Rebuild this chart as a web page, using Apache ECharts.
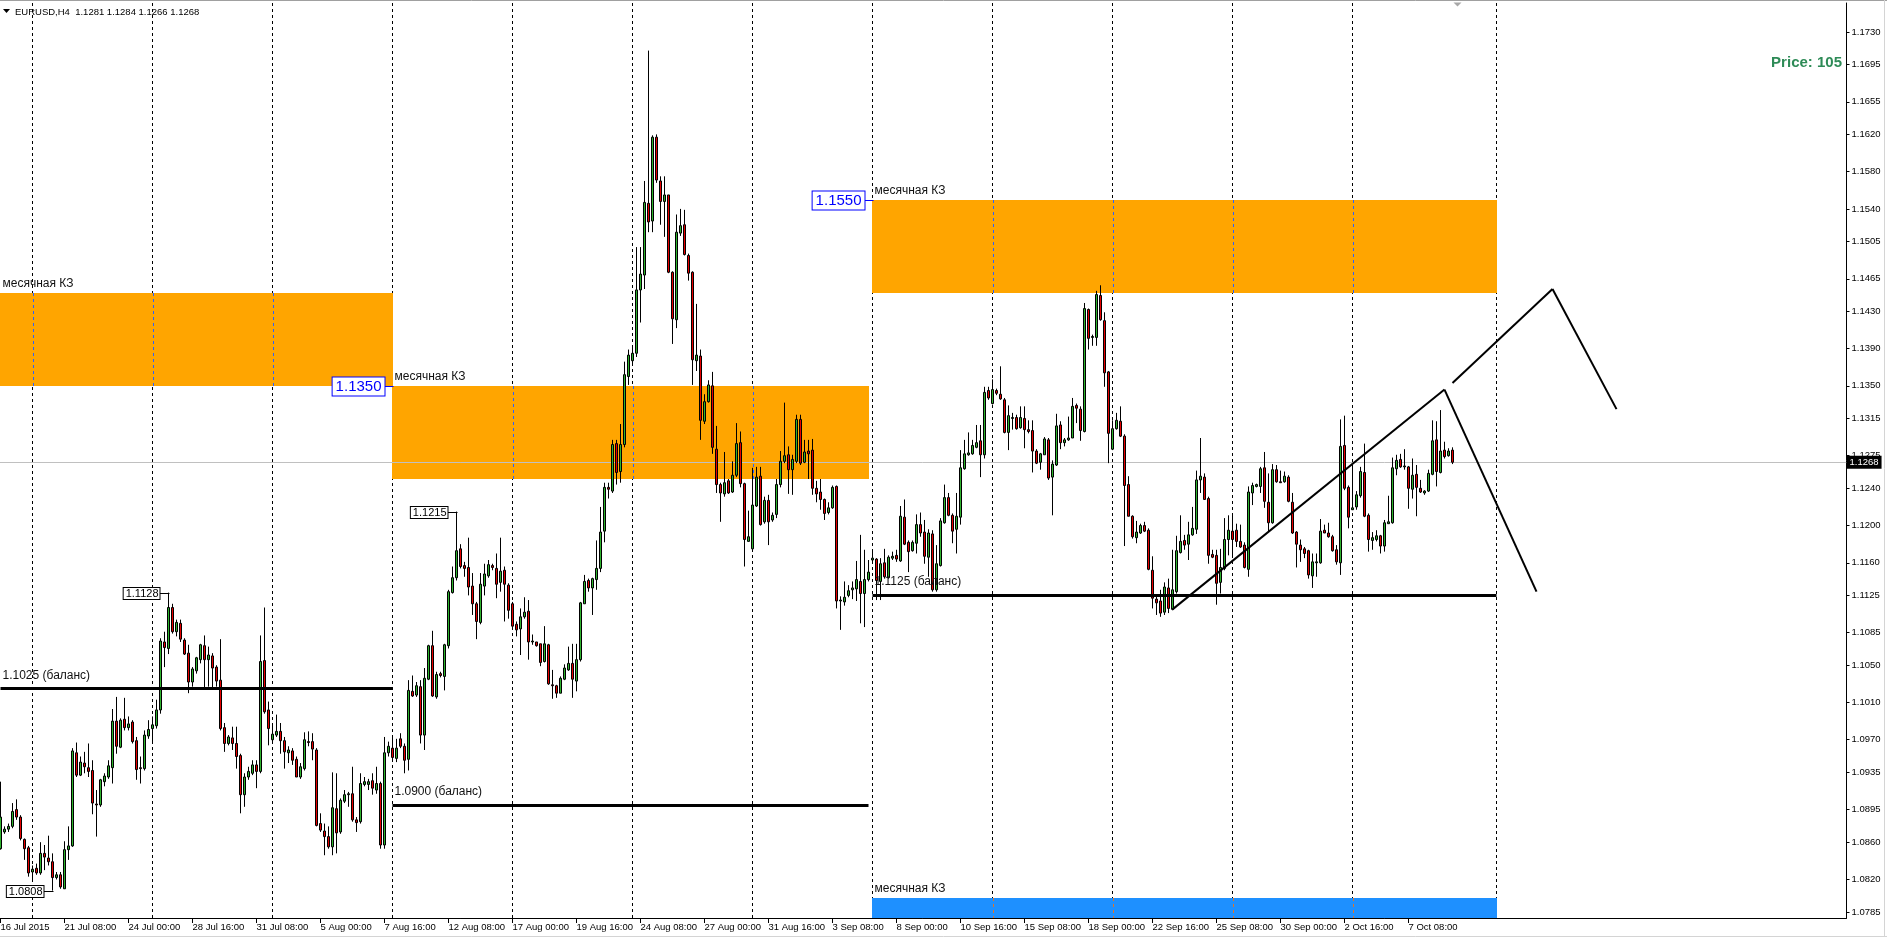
<!DOCTYPE html>
<html><head><meta charset="utf-8">
<script src="https://cdn.jsdelivr.net/npm/echarts@6/dist/echarts.min.js"></script>
<style>html,body{margin:0;padding:0;background:#fff;overflow:hidden}#chart{width:1887px;height:940px}</style>
</head><body><div id="chart"></div>
<script>
// ---------------- DATA ----------------
const symbolName = 'EURUSD,H4';
const indicatorText = 'Price: 105';
const tickLabels = ['16 Jul 2015','21 Jul 08:00','24 Jul 00:00','28 Jul 16:00','31 Jul 08:00','5 Aug 00:00','7 Aug 16:00','12 Aug 08:00','17 Aug 00:00','19 Aug 16:00','24 Aug 08:00','27 Aug 00:00','31 Aug 16:00','3 Sep 08:00','8 Sep 00:00','10 Sep 16:00','15 Sep 08:00','18 Sep 00:00','22 Sep 16:00','25 Sep 08:00','30 Sep 00:00','2 Oct 16:00','7 Oct 08:00'];
const barsPerTickLabel = 16;
const totalSlots = 462;

const opens = [
1.0853,1.0871,1.0874,1.0877,1.0895,1.0887,1.0863,1.0854,1.0828,1.0832,
1.0827,1.0848,1.0843,1.0839,1.0822,1.0825,1.0810,1.0852,1.0856,1.0956,
1.0932,1.0945,1.0940,1.0937,1.0901,1.0900,1.0925,1.0930,1.0940,1.0990,
1.0962,1.0992,1.0983,1.0989,1.0969,1.0940,1.0939,1.0974,1.0982,1.0985,
1.1002,1.1075,1.1068,1.1112,1.1086,1.1095,1.1077,1.1063,1.1032,1.1044,
1.1056,1.1071,1.1056,1.1060,1.1048,1.1034,1.0983,1.0966,1.0972,1.0966,
1.0953,1.0911,1.0930,1.0934,1.0943,1.0936,1.1055,1.1002,1.0970,1.0975,
1.0979,1.0969,1.0956,1.0958,1.0949,1.0930,1.0939,1.0968,1.0968,1.0959,
1.0880,1.0872,1.0866,1.0855,1.0896,1.0871,1.0904,1.0911,1.0912,1.0884,
1.0882,1.0922,1.0922,1.0926,1.0916,1.0923,1.0857,1.0956,1.0961,1.0950,
1.0971,1.0963,1.0949,1.1022,1.1018,1.1027,1.0975,1.1035,1.1071,1.1016,
1.1041,1.1038,1.1071,1.1128,1.1144,1.1175,1.1157,1.1155,1.1135,1.1116,
1.1096,1.1135,1.1146,1.1157,1.1154,1.1139,1.1152,1.1136,1.1116,1.1094,
1.1089,1.1102,1.1108,1.1075,1.1075,1.1073,1.1054,1.1072,1.1029,1.1028,
1.1020,1.1035,1.1045,1.1052,1.1033,1.1056,1.1116,1.1141,1.1133,1.1142,
1.1154,1.1194,1.1241,1.1237,1.1288,1.1258,1.1287,1.1360,1.1377,1.1385,
1.1453,1.1469,1.1546,1.1527,1.1617,1.1570,1.1548,1.1555,1.1472,1.1421,
1.1514,1.1523,1.1490,1.1472,1.1377,1.1382,1.1312,1.1333,1.1350,1.1282,
1.1244,1.1234,1.1248,1.1236,1.1254,1.1289,1.1245,1.1183,1.1175,1.1221,
1.1253,1.1204,1.1227,1.1206,1.1212,1.1244,1.1269,1.1276,1.1260,1.1269,
1.1314,1.1268,1.1280,1.1281,1.1240,1.1236,1.1228,1.1214,1.1219,1.1242,
1.1119,1.1118,1.1125,1.1131,1.1132,1.1140,1.1127,1.1142,1.1163,1.1164,
1.1140,1.1160,1.1144,1.1165,1.1168,1.1162,1.1209,1.1182,1.1173,1.1181,
1.1201,1.1193,1.1166,1.1191,1.1131,1.1157,1.1203,1.1230,1.1211,1.1196,
1.1209,1.1261,1.1276,1.1277,1.1284,1.1291,1.1276,1.1345,1.1331,1.1345,
1.1341,1.1335,1.1300,1.1315,1.1316,1.1305,1.1315,1.1303,1.1302,1.1280,
1.1268,1.1276,1.1292,1.1252,1.1265,1.1308,1.1289,1.1292,1.1294,1.1329,
1.1325,1.1301,1.1432,1.1402,1.1402,1.1447,1.1420,1.1365,1.1282,1.1304,
1.1312,1.1296,1.1244,1.1210,1.1187,1.1192,1.1200,1.1195,1.1152,1.1121,
1.1119,1.1107,1.1133,1.1110,1.1129,1.1171,1.1184,1.1180,1.1190,1.1196,
1.1249,1.1252,1.1229,1.1169,1.1168,1.1139,1.1154,1.1185,1.1194,1.1195,
1.1183,1.1179,1.1153,1.1235,1.1242,1.1242,1.1262,1.1225,1.1203,1.1260,
1.1247,1.1247,1.1252,1.1225,1.1193,1.1179,1.1175,1.1173,1.1146,1.1160,
1.1160,1.1195,1.1192,1.1188,1.1174,1.1160,1.1286,1.1241,1.1217,1.1220,
1.1232,1.1257,1.1211,1.1184,1.1185,1.1189,1.1178,1.1202,1.1203,1.1261,
1.1271,1.1263,1.1263,1.1239,1.1255,1.1240,1.1235,1.1237,1.1255,1.1292,
1.1257,1.1281,1.1275,1.1281];

const highs = [
1.0925,1.0877,1.0880,1.0902,1.0906,1.0889,1.0864,1.0856,1.0835,1.0837,
1.0860,1.0857,1.0867,1.0848,1.0828,1.0828,1.0861,1.0877,1.0961,1.0967,
1.0952,1.0957,1.0966,1.0948,1.0916,1.0928,1.0934,1.0948,1.1003,1.1016,
1.0993,1.1015,1.0995,1.0991,1.0973,1.0952,1.0980,1.0991,1.0995,1.1013,
1.1079,1.1086,1.1128,1.1116,1.1099,1.1099,1.1079,1.1072,1.1048,1.1059,
1.1073,1.1082,1.1070,1.1063,1.1050,1.1078,1.0988,1.0975,1.0984,1.0984,
1.0955,1.0934,1.0941,1.0948,1.0948,1.1082,1.1112,1.1011,1.0986,1.0997,
1.0988,1.0973,1.0963,1.0961,1.0952,1.0945,1.0978,1.0979,1.0977,1.0961,
1.0891,1.0880,1.0877,1.0935,1.0934,1.0907,1.0916,1.0914,1.0941,1.0887,
1.0934,1.0930,1.0928,1.0934,1.0941,1.0925,1.0973,1.0968,1.0973,1.0971,
1.0977,1.0966,1.1034,1.1039,1.1032,1.1034,1.1047,1.1072,1.1087,1.1043,
1.1043,1.1073,1.1131,1.1156,1.1215,1.1180,1.1161,1.1187,1.1149,1.1118,
1.1149,1.1159,1.1163,1.1159,1.1170,1.1187,1.1156,1.1138,1.1118,1.1097,
1.1111,1.1123,1.1120,1.1083,1.1075,1.1073,1.1092,1.1073,1.1045,1.1029,
1.1038,1.1051,1.1070,1.1073,1.1073,1.1118,1.1147,1.1143,1.1144,1.1184,
1.1220,1.1246,1.1246,1.1292,1.1292,1.1309,1.1376,1.1389,1.1393,1.1499,
1.1499,1.1570,1.1710,1.1619,1.1620,1.1575,1.1575,1.1555,1.1473,1.1534,
1.1540,1.1539,1.1492,1.1473,1.1438,1.1389,1.1341,1.1356,1.1365,1.1307,
1.1246,1.1279,1.1250,1.1269,1.1310,1.1301,1.1246,1.1216,1.1262,1.1263,
1.1263,1.1231,1.1233,1.1214,1.1250,1.1280,1.1332,1.1285,1.1276,1.1319,
1.1319,1.1292,1.1292,1.1293,1.1248,1.1250,1.1229,1.1225,1.1243,1.1243,
1.1124,1.1140,1.1136,1.1140,1.1162,1.1190,1.1174,1.1163,1.1174,1.1165,
1.1165,1.1175,1.1168,1.1172,1.1174,1.1221,1.1228,1.1184,1.1184,1.1212,
1.1214,1.1206,1.1196,1.1195,1.1179,1.1208,1.1244,1.1235,1.1213,1.1235,
1.1281,1.1292,1.1300,1.1292,1.1308,1.1308,1.1349,1.1349,1.1357,1.1347,
1.1371,1.1337,1.1329,1.1321,1.1319,1.1328,1.1328,1.1313,1.1313,1.1282,
1.1278,1.1295,1.1294,1.1270,1.1320,1.1312,1.1294,1.1317,1.1337,1.1331,
1.1328,1.1439,1.1433,1.1405,1.1452,1.1458,1.1429,1.1366,1.1313,1.1321,
1.1328,1.1298,1.1253,1.1211,1.1205,1.1202,1.1204,1.1197,1.1167,1.1124,
1.1131,1.1139,1.1143,1.1174,1.1189,1.1211,1.1190,1.1204,1.1220,1.1259,
1.1294,1.1256,1.1231,1.1174,1.1174,1.1175,1.1208,1.1211,1.1211,1.1202,
1.1201,1.1182,1.1242,1.1246,1.1245,1.1263,1.1279,1.1256,1.1266,1.1265,
1.1259,1.1258,1.1254,1.1235,1.1194,1.1185,1.1177,1.1174,1.1170,1.1170,
1.1207,1.1201,1.1203,1.1190,1.1179,1.1314,1.1318,1.1243,1.1262,1.1237,
1.1263,1.1288,1.1213,1.1193,1.1195,1.1190,1.1206,1.1232,1.1273,1.1276,
1.1277,1.1282,1.1264,1.1272,1.1265,1.1249,1.1238,1.1260,1.1313,1.1312,
1.1324,1.1290,1.1283,1.1284];

const lows = [
1.0852,1.0869,1.0871,1.0875,1.0884,1.0862,1.0841,1.0823,1.0819,1.0825,
1.0825,1.0830,1.0835,1.0808,1.0820,1.0810,1.0810,1.0841,1.0855,1.0930,
1.0931,1.0934,1.0930,1.0890,1.0866,1.0898,1.0920,1.0928,1.0923,1.0955,
1.0961,1.0980,1.0980,1.0966,1.0927,1.0923,1.0937,1.0971,1.0968,1.0982,
1.0998,1.1048,1.1062,1.1084,1.1081,1.1075,1.1061,1.1020,1.1027,1.1041,
1.1052,1.1025,1.1027,1.1025,1.1027,1.0980,1.0957,1.0964,1.0959,1.0939,
1.0891,1.0898,1.0927,1.0932,1.0918,1.0934,1.0998,1.0964,1.0968,1.0973,
1.0955,1.0939,1.0945,1.0943,1.0930,1.0928,1.0937,1.0963,1.0948,1.0877,
1.0871,1.0846,1.0853,1.0846,1.0848,1.0869,1.0902,1.0898,1.0882,1.0871,
1.0880,1.0920,1.0916,1.0911,1.0912,1.0853,1.0853,1.0952,1.0948,1.0946,
1.0961,1.0934,1.0937,1.1016,1.1016,1.0966,1.0959,1.1034,1.1016,1.1014,
1.1037,1.1023,1.1068,1.1127,1.1141,1.1154,1.1145,1.1125,1.1104,1.1078,
1.1094,1.1125,1.1144,1.1152,1.1122,1.1129,1.1097,1.1100,1.1091,1.1081,
1.1061,1.1100,1.1056,1.1072,1.1070,1.1049,1.1053,1.1029,1.1014,1.1015,
1.1020,1.1034,1.1044,1.1015,1.1022,1.1054,1.1116,1.1129,1.1104,1.1131,
1.1150,1.1182,1.1229,1.1235,1.1244,1.1246,1.1284,1.1351,1.1372,1.1381,
1.1418,1.1454,1.1515,1.1515,1.1568,1.1523,1.1510,1.1471,1.1395,1.1412,
1.1511,1.1490,1.1463,1.1351,1.1366,1.1292,1.1309,1.1332,1.1277,1.1235,
1.1204,1.1231,1.1234,1.1235,1.1252,1.1241,1.1156,1.1183,1.1174,1.1220,
1.1200,1.1202,1.1179,1.1204,1.1208,1.1241,1.1267,1.1234,1.1233,1.1267,
1.1265,1.1267,1.1250,1.1233,1.1225,1.1217,1.1206,1.1212,1.1218,1.1111,
1.1088,1.1114,1.1123,1.1121,1.1119,1.1095,1.1091,1.1140,1.1161,1.1120,
1.1120,1.1143,1.1143,1.1163,1.1161,1.1161,1.1179,1.1150,1.1172,1.1170,
1.1188,1.1159,1.1145,1.1129,1.1129,1.1156,1.1202,1.1210,1.1181,1.1170,
1.1201,1.1260,1.1275,1.1276,1.1283,1.1252,1.1272,1.1335,1.1330,1.1340,
1.1335,1.1299,1.1281,1.1303,1.1303,1.1304,1.1283,1.1299,1.1257,1.1266,
1.1260,1.1276,1.1249,1.1211,1.1264,1.1282,1.1285,1.1291,1.1294,1.1310,
1.1291,1.1300,1.1389,1.1393,1.1393,1.1420,1.1349,1.1267,1.1281,1.1303,
1.1295,1.1178,1.1210,1.1186,1.1181,1.1191,1.1193,1.1152,1.1111,1.1104,
1.1102,1.1104,1.1106,1.1109,1.1127,1.1170,1.1174,1.1163,1.1189,1.1191,
1.1235,1.1228,1.1159,1.1165,1.1115,1.1127,1.1152,1.1168,1.1168,1.1177,
1.1176,1.1154,1.1145,1.1222,1.1241,1.1235,1.1219,1.1193,1.1202,1.1246,
1.1246,1.1246,1.1225,1.1191,1.1155,1.1161,1.1165,1.1143,1.1133,1.1145,
1.1159,1.1192,1.1187,1.1172,1.1158,1.1147,1.1238,1.1197,1.1217,1.1217,
1.1230,1.1209,1.1172,1.1174,1.1183,1.1170,1.1172,1.1202,1.1202,1.1254,
1.1262,1.1260,1.1218,1.1229,1.1210,1.1235,1.1233,1.1236,1.1254,1.1242,
1.1256,1.1272,1.1274,1.1266];

const closes = [
1.0887,1.0874,1.0877,1.0893,1.0887,1.0864,1.0853,1.0827,1.0831,1.0827,
1.0848,1.0844,1.0839,1.0822,1.0825,1.0812,1.0852,1.0856,1.0958,1.0932,
1.0946,1.0941,1.0936,1.0902,1.0900,1.0927,1.0931,1.0942,1.0990,1.0963,
1.0991,1.0983,1.0987,1.0968,1.0938,1.0939,1.0975,1.0981,1.0986,1.1002,
1.1076,1.1069,1.1112,1.1086,1.1096,1.1078,1.1062,1.1032,1.1046,1.1058,
1.1072,1.1056,1.1061,1.1047,1.1033,1.0982,1.0966,1.0973,1.0966,1.0952,
1.0911,1.0930,1.0936,1.0943,1.0936,1.1054,1.1000,1.0982,1.0976,1.0979,
1.0969,1.0957,1.0959,1.0948,1.0930,1.0941,1.0970,1.0967,1.0960,1.0878,
1.0873,1.0866,1.0855,1.0897,1.0870,1.0905,1.0911,1.0912,1.0884,1.0881,
1.0923,1.0925,1.0925,1.0918,1.0923,1.0857,1.0956,1.0963,1.0951,1.0961,
1.0963,1.0948,1.1023,1.1017,1.1028,1.0975,1.1036,1.1071,1.1017,1.1040,
1.1039,1.1072,1.1129,1.1144,1.1173,1.1156,1.1154,1.1134,1.1116,1.1097,
1.1137,1.1148,1.1158,1.1155,1.1137,1.1151,1.1137,1.1109,1.1092,1.1088,
1.1102,1.1107,1.1075,1.1076,1.1071,1.1053,1.1073,1.1030,1.1028,1.1020,
1.1036,1.1047,1.1052,1.1035,1.1056,1.1117,1.1140,1.1133,1.1143,1.1154,
1.1193,1.1241,1.1239,1.1287,1.1257,1.1287,1.1362,1.1383,1.1385,1.1453,
1.1470,1.1547,1.1526,1.1617,1.1571,1.1548,1.1555,1.1472,1.1422,1.1515,
1.1522,1.1491,1.1471,1.1378,1.1383,1.1313,1.1333,1.1351,1.1284,1.1244,
1.1235,1.1246,1.1235,1.1254,1.1288,1.1245,1.1185,1.1188,1.1222,1.1252,
1.1201,1.1227,1.1204,1.1211,1.1244,1.1269,1.1275,1.1260,1.1271,1.1314,
1.1267,1.1279,1.1277,1.1240,1.1234,1.1228,1.1213,1.1219,1.1241,1.1119,
1.1120,1.1123,1.1130,1.1133,1.1142,1.1127,1.1142,1.1150,1.1165,1.1141,
1.1159,1.1145,1.1166,1.1167,1.1164,1.1210,1.1180,1.1172,1.1182,1.1201,
1.1192,1.1167,1.1192,1.1131,1.1159,1.1205,1.1230,1.1211,1.1194,1.1210,
1.1262,1.1277,1.1278,1.1286,1.1289,1.1276,1.1343,1.1337,1.1346,1.1342,
1.1336,1.1300,1.1318,1.1316,1.1304,1.1316,1.1303,1.1301,1.1280,1.1267,
1.1277,1.1293,1.1251,1.1266,1.1307,1.1289,1.1292,1.1294,1.1328,1.1326,
1.1302,1.1433,1.1401,1.1403,1.1448,1.1421,1.1364,1.1299,1.1304,1.1313,
1.1296,1.1243,1.1210,1.1188,1.1193,1.1200,1.1194,1.1153,1.1122,1.1117,
1.1106,1.1134,1.1111,1.1131,1.1173,1.1183,1.1179,1.1190,1.1197,1.1249,
1.1253,1.1228,1.1168,1.1166,1.1138,1.1155,1.1185,1.1195,1.1185,1.1183,
1.1177,1.1155,1.1236,1.1243,1.1244,1.1261,1.1226,1.1203,1.1260,1.1247,
1.1246,1.1253,1.1226,1.1192,1.1180,1.1174,1.1170,1.1147,1.1161,1.1161,
1.1194,1.1192,1.1188,1.1173,1.1161,1.1285,1.1240,1.1209,1.1219,1.1233,
1.1258,1.1210,1.1185,1.1187,1.1189,1.1178,1.1203,1.1204,1.1262,1.1270,
1.1263,1.1264,1.1240,1.1254,1.1241,1.1236,1.1237,1.1256,1.1291,1.1258,
1.1280,1.1274,1.1280,1.1268];

const yTickValues = [1.0785,1.0820,1.0860,1.0895,1.0935,1.0970,1.1010,1.1050,1.1085,1.1125,1.1160,1.1200,1.1240,1.1275,1.1315,1.1350,1.1390,1.1430,1.1465,1.1505,1.1540,1.1580,1.1620,1.1655,1.1695,1.1730];
const yMin = 1.07786, yMax = 1.17611;

const gridFirstBar = 8, gridStepBars = 30;
const extraVerticalBars = [374];

const zoneStart = [0, 98, 218, 218];
const zoneEnd   = [98, 217, 374, 374];
const zoneLow   = [1.1350, 1.1250, 1.1450, 1.0700];
const zoneHigh  = [1.1450, 1.1350, 1.1550, 1.0800];
const zoneText  = 'месячная КЗ';

const levelStart = [0, 98, 218];
const levelEnd   = [98, 217, 374];
const levelPrice = [1.1025, 1.0900, 1.1125];
const levelSuffix = ' (баланс)';

const boxBar   = [98, 218];
const boxPrice = [1.1350, 1.1550];

const calloutBar   = [42, 114, 13];
const calloutPrice = [1.1128, 1.1215, 1.0808];

const trendFromBar   = [293, 361, 363, 388];
const trendFromPrice = [1.1110, 1.1346, 1.1353, 1.1454];
const trendToBar     = [361, 384, 388, 404];
const trendToPrice   = [1.1346, 1.1129, 1.1454, 1.1325];

const shiftMarkerBar = 364;

// ---------------- STYLE ----------------
const FONT = '"Liberation Sans", Arial, sans-serif';
const zoneColors = ['#FFA500', '#FFA500', '#FFA500', '#1E90FF'];
const zoneDashColors = ['#2a62ff', '#2a62ff', '#2a62ff', '#e07428'];
const DASH = [3, 3];

// ---------------- BUILD ----------------
const fmt = v => v.toFixed(4);
const categories = Array.from({length: totalSlots}, (_, i) =>
  (i % barsPerTickLabel === 0 && i / barsPerTickLabel < tickLabels.length) ? tickLabels[i / barsPerTickLabel] : '');
const candleData = opens.map((o, i) => [o, closes[i], lows[i], highs[i]]);
const last = opens.length - 1;
const lastClose = closes[last];

const gridBars = [];
for (let b = gridFirstBar; b <= last; b += gridStepBars) gridBars.push(b);
const verticalBars = gridBars.concat(extraVerticalBars);

const zoneData = zoneStart.map((s, i) => [s, zoneEnd[i], Math.max(zoneLow[i], yMin), Math.min(zoneHigh[i], yMax)]);
function renderZone(params, api) {
  const i = params.dataIndex;
  const s = api.value(0), e = api.value(1);
  const p1 = api.coord([s, api.value(3)]);
  const p2 = api.coord([e, api.value(2)]);
  const x1 = Math.floor(p1[0]), x2 = Math.round(p2[0]);
  const y1 = Math.round(p1[1]), y2 = Math.round(p2[1]);
  const children = [{type: 'rect', shape: {x: x1, y: y1, width: x2 - x1, height: y2 - y1}, style: {fill: zoneColors[i]}}];
  verticalBars.forEach(b => {
    if (b > s && b < e) {
      const x = Math.round(api.coord([b, api.value(2)])[0]) + 0.5;
      children.push({type: 'line', shape: {x1: x, y1: y1, x2: x, y2: y2}, style: {stroke: zoneDashColors[i], lineDash: DASH, lineWidth: 1}});
    }
  });
  return {type: 'group', children};
}

const levelLines = levelStart.map((s, i) => [{coord: [s, levelPrice[i]]}, {coord: [levelEnd[i], levelPrice[i]]}]);
const trendLines = trendFromBar.map((b, i) => [{coord: [b, trendFromPrice[i]]}, {coord: [trendToBar[i], trendToPrice[i]]}]);

const annotations = [];
zoneStart.forEach((s, i) => annotations.push({x: s, y: zoneHigh[i], text: zoneText, kind: 'zone'}));
levelStart.forEach((s, i) => annotations.push({x: s, y: levelPrice[i], text: fmt(levelPrice[i]) + levelSuffix, kind: 'level'}));
boxBar.forEach((b, i) => annotations.push({x: b, y: boxPrice[i], text: fmt(boxPrice[i]), kind: 'box'}));
calloutBar.forEach((b, i) => annotations.push({x: b, y: calloutPrice[i], text: fmt(calloutPrice[i]), kind: 'callout'}));
annotations.push({x: shiftMarkerBar, y: yMax, text: '', kind: 'shift'});

function renderAnnotation(params, api) {
  const a = annotations[params.dataIndex];
  const p = api.coord([a.x, a.y]);
  const x = Math.round(p[0]) + 0.5, y = Math.round(p[1]) + 0.5;
  if (a.kind === 'shift') {
    return {type: 'polygon', shape: {points: [[x - 4, y - 1], [x + 4, y - 1], [x, y + 3]]}, style: {fill: '#a8a8a8'}};
  }
  if (a.kind === 'zone') {
    return {type: 'text', style: {text: a.text, x: x + 1, y: y - 10, fill: '#111', fontSize: 12, fontFamily: FONT, align: 'left', verticalAlign: 'middle'}};
  }
  if (a.kind === 'level') {
    return {type: 'text', style: {text: a.text, x: x + 1, y: y - 14, fill: '#111', fontSize: 12, fontFamily: FONT, align: 'left', verticalAlign: 'middle'}};
  }
  const isBox = a.kind === 'box';
  const color = isBox ? '#0000ff' : '#000';
  const gap = isBox ? 9 : 10;
  return {type: 'group', children: [
    {type: 'line', shape: {x1: x - gap, y1: y, x2: x, y2: y}, style: {stroke: color, lineWidth: 1}},
    {type: 'text', style: {text: a.text, x: x - gap, y: y, align: 'right', verticalAlign: 'middle',
      fill: color, fontSize: isBox ? 15 : 11, fontFamily: FONT, backgroundColor: '#fff',
      borderColor: color, borderWidth: 1, padding: isBox ? [1, 3, 0, 3] : [0, 1, 0, 2], lineHeight: isBox ? 17 : 11}}
  ]};
}

const headerText = symbolName + '  ' + [opens[last], highs[last], lows[last], closes[last]].map(fmt).join(' ');

const chart = echarts.init(document.getElementById('chart'), null, {renderer: 'canvas'});
chart.setOption({
  animation: false,
  backgroundColor: '#fff',
  grid: {left: -1.5, right: 40.5, top: 3, bottom: 22, containLabel: false, outerBoundsMode: 'none'},
  xAxis: {
    type: 'category', data: categories, boundaryGap: true,
    axisLine: {show: true, lineStyle: {color: '#000', width: 1}},
    axisTick: {show: true, alignWithLabel: true, length: 5, interval: (i, v) => v !== '', lineStyle: {color: '#000'}},
    axisLabel: {show: true, interval: (i, v) => v !== '', align: 'left', margin: 4, color: '#000', fontSize: 9.5, fontFamily: FONT, hideOverlap: false},
    splitLine: {show: false}
  },
  yAxis: {
    type: 'value', position: 'right', min: yMin, max: yMax, scale: true,
    axisLine: {show: true, onZero: false, lineStyle: {color: '#000', width: 1}},
    axisTick: {show: true, length: 3, customValues: yTickValues, lineStyle: {color: '#000'}},
    axisLabel: {show: true, customValues: yTickValues, formatter: v => fmt(v), margin: 5, color: '#000', fontSize: 9.5, fontFamily: FONT},
    splitLine: {show: false}
  },
  graphic: [
    {type: 'polygon', shape: {points: [[3, 9], [10, 9], [6.5, 13]]}, style: {fill: '#000'}, z: 100},
    {type: 'text', x: 15, y: 12, style: {text: headerText, fill: '#000', fontSize: 9.5, fontFamily: FONT, verticalAlign: 'middle'}, z: 100},
    {type: 'text', x: 1842, y: 63, style: {text: indicatorText, fill: '#2E8B57', fontSize: 15, fontWeight: 'bold', fontFamily: FONT, align: 'right', verticalAlign: 'middle'}, z: 100},
    {type: 'line', shape: {x1: 0, y1: 0.5, x2: 1887, y2: 0.5}, style: {stroke: '#a0a0a0'}, z: 100},
    {type: 'line', shape: {x1: 1884.5, y1: 0, x2: 1884.5, y2: 937}, style: {stroke: '#d4d4d4'}, z: 100},
    {type: 'line', shape: {x1: 0, y1: 936.5, x2: 1887, y2: 936.5}, style: {stroke: '#d4d4d4'}, z: 100}
  ],
  series: [
    {
      name: 'grid', type: 'line', data: [], silent: true,
      markLine: {z: 0, silent: true, symbol: ['none', 'none'], label: {show: false}, animation: false, precision: 6,
        lineStyle: {color: '#000', type: DASH, width: 1},
        data: verticalBars.map(b => ({xAxis: b}))}
    },
    {
      name: 'zones', type: 'custom', z: 1, silent: true, clip: true,
      encode: {x: [0, 1], y: [2, 3]},
      data: zoneData,
      renderItem: renderZone
    },
    {
      name: 'bid', type: 'line', data: [], silent: true,
      markLine: {z: 1.8, silent: true, symbol: ['none', 'none'], animation: false, precision: 6,
        lineStyle: {color: '#c0c0c0', type: 'solid', width: 1},
        label: {show: true, position: 'end', distance: 0, formatter: fmt(lastClose), color: '#fff', backgroundColor: '#000', padding: [2, 3, 1, 3], fontSize: 9.5, fontFamily: FONT},
        data: [{yAxis: lastClose}]}
    },
    {
      name: 'EURUSD', type: 'candlestick', z: 2, barWidth: 2, data: candleData,
      itemStyle: {color: '#2DB32D', color0: '#E60000', borderColor: '#000', borderColor0: '#000', borderColorDoji: '#000', borderWidth: 1}
    },
    {
      name: 'levels', type: 'line', data: [], silent: true,
      markLine: {z: 5, silent: true, symbol: ['none', 'none'], label: {show: false}, animation: false, precision: 6,
        lineStyle: {color: '#000', type: 'solid', width: 3}, data: levelLines}
    },
    {
      name: 'trends', type: 'line', data: [], silent: true,
      markLine: {z: 5, silent: true, symbol: ['none', 'none'], label: {show: false}, animation: false, precision: 6,
        lineStyle: {color: '#000', type: 'solid', width: 2}, data: trendLines}
    },
    {
      name: 'annotations', type: 'custom', z: 6, silent: true, clip: false,
      encode: {x: 0, y: 1},
      data: annotations.map(a => [a.x, a.y]),
      renderItem: renderAnnotation
    }
  ]
});
</script></body></html>
